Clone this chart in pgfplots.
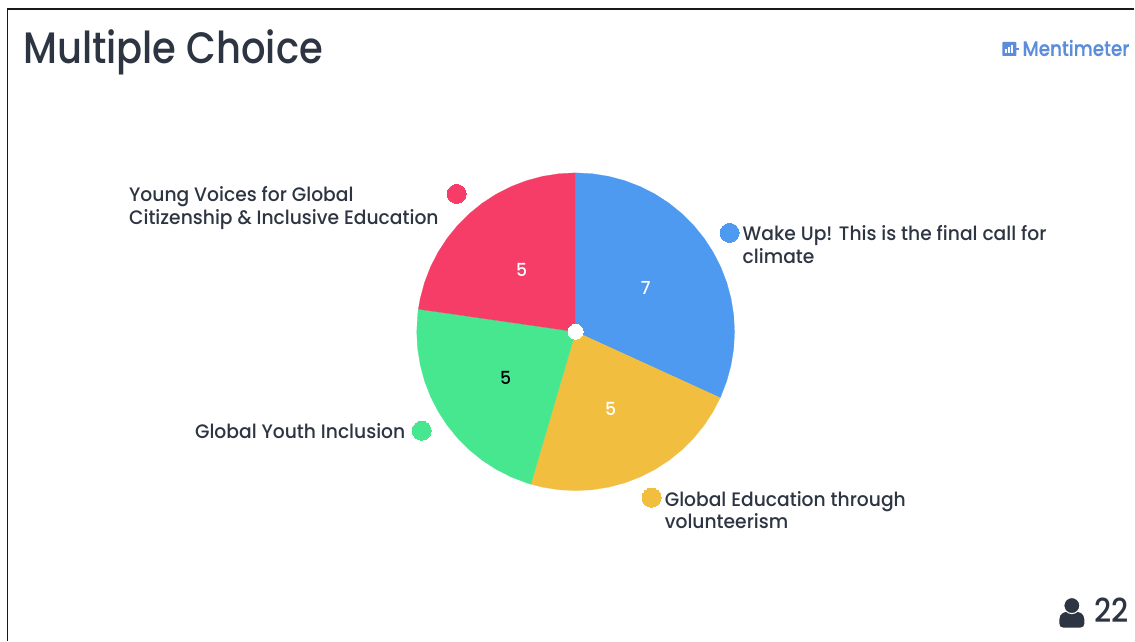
\documentclass[border=0pt]{standalone}
\usepackage{fontspec}
\usepackage{pgfplots}
\pgfplotsset{compat=1.18}
\usepgfplotslibrary{polar}
\setmainfont{Poppins Medium}[FakeStretch=0.96]
\newfontfamily\titlefont{Poppins Medium}[FakeStretch=0.875]
\newfontfamily\brandfont{Poppins Medium}[FakeStretch=0.875,FakeBold=0.4]
\newfontfamily\countfont{Poppins Medium}[FakeStretch=0.9]
\definecolor{inkdark}{HTML}{2E3542}
\definecolor{wakeblue}{HTML}{4E9AF1}
\definecolor{voicered}{HTML}{F63D68}
\definecolor{youthgreen}{HTML}{47E78F}
\definecolor{eduyellow}{HTML}{F2BE3F}
\definecolor{logoblue}{HTML}{5B8DDB}
% votes per option: 7, 5, 5, 5 of 22, so each sector spans votes/22 x 360 degrees
\newcommand{\fs}[1]{\fontsize{#1}{#1}\selectfont}
\begin{document}
\begin{tikzpicture}
\begin{axis}[
  scale only axis, width=1135pt, height=641pt,
  xmin=-576, xmax=559, ymin=-309, ymax=332,
  hide axis, clip=false,
  every axis plot/.append style={line join=round},
]
\path[fill=white] (axis cs:-576,-309) rectangle (axis cs:559,332);
\draw[black!90, line width=1.4pt] (axis cs:-568.5,-309) -- (axis cs:-568.5,323) -- (axis cs:559,323);

% Wake Up! (7 votes)
\addplot[data cs=polar, fill=wakeblue, draw=wakeblue, line width=0.2pt] coordinates {
 (0,0) (90,159) (84,159) (78,159) (72,159) (66,159) (60,159) (54,159) (48,159) (42,159) (36,159)
 (30,159) (24,159) (18,159) (12,159) (6,159) (0,159) (-6,159) (-12,159) (-18,159) (-24,159) (-24.55,159)
} -- cycle;
% Global Education through volunteerism (5 votes)
\addplot[data cs=polar, fill=eduyellow, draw=eduyellow, line width=0.2pt] coordinates {
 (0,0) (-24.55,159) (-30,159) (-36,159) (-42,159) (-48,159) (-54,159) (-60,159) (-66,159) (-72,159)
 (-78,159) (-84,159) (-90,159) (-96,159) (-102,159) (-106.36,159)
} -- cycle;
% Global Youth Inclusion (5 votes)
\addplot[data cs=polar, fill=youthgreen, draw=youthgreen, line width=0.2pt] coordinates {
 (0,0) (-106.36,159) (-108,159) (-114,159) (-120,159) (-126,159) (-132,159) (-138,159) (-144,159)
 (-150,159) (-156,159) (-162,159) (-168,159) (-174,159) (-180,159) (-186,159) (-188.18,159)
} -- cycle;
% Young Voices (5 votes)
\addplot[data cs=polar, fill=voicered, draw=voicered, line width=0.2pt] coordinates {
 (0,0) (-188.18,159) (-192,159) (-198,159) (-204,159) (-210,159) (-216,159) (-222,159) (-228,159)
 (-234,159) (-240,159) (-246,159) (-252,159) (-258,159) (-264,159) (-270,159)
} -- cycle;

% hub and legend dots
\addplot[only marks, mark=*, mark size=7.5pt, mark options={fill=white, draw=white, line width=0pt}] coordinates {(0,0)};
\addplot[only marks, mark=*, mark size=9.5pt, mark options={fill=wakeblue, draw=wakeblue, line width=0pt}] coordinates {(154,99)};
\addplot[only marks, mark=*, mark size=9.5pt, mark options={fill=eduyellow, draw=eduyellow, line width=0pt}] coordinates {(76,-166)};
\addplot[only marks, mark=*, mark size=9.5pt, mark options={fill=youthgreen, draw=youthgreen, line width=0pt}] coordinates {(-154,-99)};
\addplot[only marks, mark=*, mark size=9.5pt, mark options={fill=voicered, draw=voicered, line width=0pt}] coordinates {(-119,138)};

% sector values
\node[text=white, font=\fs{18}] at (axis cs:70,44) {7};
\node[text=white, font=\fs{18}] at (axis cs:35,-77) {5};
\node[text=black, font=\fs{18}] at (axis cs:-70,-46) {5};
\node[text=white, font=\fs{18}] at (axis cs:-54,62) {5};

% option labels
\tikzset{lab/.style={anchor=base west, inner sep=0pt, text=inkdark, font=\fs{19.5}}}
\node[lab] at (axis cs:167,91) {Wake Up! This is the final call for};
\node[lab] at (axis cs:167,68) {climate};
\node[lab] at (axis cs:89,-174.5) {Global Education through};
\node[lab] at (axis cs:89,-196.5) {volunteerism};
\node[lab] at (axis cs:-381,-107) {Global Youth Inclusion};
\node[lab] at (axis cs:-447,130) {Young Voices for Global};
\node[lab] at (axis cs:-447,107) {Citizenship \& Inclusive Education};

% heading
\node[anchor=base west, inner sep=0pt, text=inkdark, font=\titlefont\fs{44}] at (axis cs:-553,268) {Multiple Choice};

% brand mark
\fill[logoblue, rounded corners=0.8pt] (axis cs:-576+1003,332-42) rectangle (axis cs:-576+1017,332-56);
\fill[white] (axis cs:-576+1006,332-53) rectangle (axis cs:-576+1008,332-49);
\fill[white] (axis cs:-576+1009,332-53) rectangle (axis cs:-576+1011,332-47);
\fill[white] (axis cs:-576+1012,332-53) rectangle (axis cs:-576+1014,332-45);
\fill[logoblue] (axis cs:-576+1017,332-48) rectangle (axis cs:-576+1020,332-50);
\node[anchor=base west, inner sep=0pt, text=logoblue, font=\brandfont\fs{21}] at (axis cs:447,276) {Mentimeter};

% respondent count
\fill[inkdark] (axis cs:488,-296) .. controls (axis cs:485.5,-296) and (axis cs:484,-294.5) .. (axis cs:484,-292) -- (axis cs:484,-288) .. controls (axis cs:484,-282) and (axis cs:489,-279.5) .. (axis cs:496.5,-279.5) .. controls (axis cs:504,-279.5) and (axis cs:509,-282) .. (axis cs:509,-288) -- (axis cs:509,-292) .. controls (axis cs:509,-294.5) and (axis cs:507.5,-296) .. (axis cs:505,-296) -- cycle;
\fill[inkdark, draw=white, line width=1pt] (axis cs:496.5,-274) circle[radius=8];
\node[anchor=base west, inner sep=0pt, text=inkdark, font=\countfont\fs{33}] at (axis cs:519,-291) {22};
\end{axis}
\end{tikzpicture}
\end{document}
